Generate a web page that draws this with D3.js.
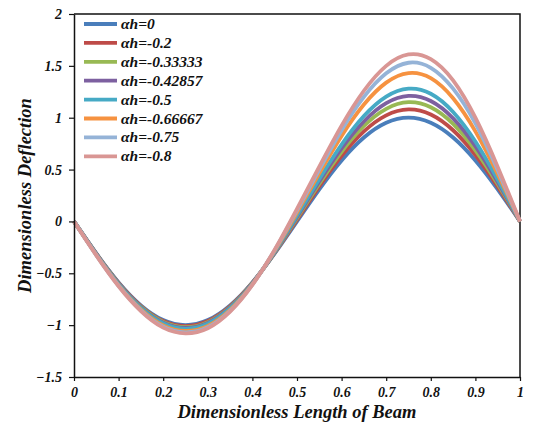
<!DOCTYPE html>
<html>
<head>
<meta charset="utf-8">
<script src="https://cdn.jsdelivr.net/npm/d3@7"></script>
<style>
  body { margin: 0; background: #fff; }
  text { font-family: "Liberation Serif", "Times New Roman", serif; font-weight: bold; font-style: italic; fill: #111; }
</style>
</head>
<body>
<div id="chart"></div>
<script>
// x positions along the beam
const xs = [0, 0.05, 0.1, 0.15, 0.2, 0.25, 0.3, 0.35, 0.4, 0.45, 0.5,
            0.55, 0.6, 0.65, 0.7, 0.75, 0.8, 0.85, 0.9, 0.95, 1];

// legend labels
const labels = ["\u03b1h=0", "\u03b1h=-0.2", "\u03b1h=-0.33333", "\u03b1h=-0.42857",
                "\u03b1h=-0.5", "\u03b1h=-0.66667", "\u03b1h=-0.75", "\u03b1h=-0.8"];

// deflection values
const ah0     = [0, -0.309, -0.588, -0.809, -0.951, -1.000, -0.951, -0.809, -0.588, -0.309, 0.000, 0.309, 0.588, 0.809, 0.951, 1.000, 0.951, 0.809, 0.588, 0.309, 0];
const ah02    = [0, -0.311, -0.593, -0.816, -0.961, -1.010, -0.961, -0.817, -0.591, -0.304, 0.016, 0.338, 0.632, 0.868, 1.023, 1.080, 1.031, 0.879, 0.640, 0.336, 0];
const ah0333  = [0, -0.314, -0.597, -0.823, -0.969, -1.020, -0.971, -0.824, -0.594, -0.300, 0.030, 0.363, 0.671, 0.920, 1.086, 1.150, 1.101, 0.941, 0.686, 0.360, 0];
const ah0428  = [0, -0.315, -0.601, -0.828, -0.976, -1.027, -0.978, -0.830, -0.596, -0.296, 0.042, 0.385, 0.704, 0.964, 1.140, 1.210, 1.161, 0.994, 0.725, 0.380, 0];
const ah05    = [0, -0.317, -0.605, -0.834, -0.985, -1.036, -0.987, -0.837, -0.599, -0.292, 0.056, 0.410, 0.742, 1.016, 1.203, 1.280, 1.231, 1.055, 0.770, 0.404, 0];
const ah0666  = [0, -0.322, -0.614, -0.848, -1.003, -1.056, -1.007, -0.852, -0.605, -0.283, 0.086, 0.464, 0.825, 1.127, 1.338, 1.430, 1.381, 1.187, 0.868, 0.455, 0];
const ah075   = [0, -0.325, -0.620, -0.857, -1.015, -1.069, -1.020, -0.862, -0.609, -0.277, 0.106, 0.500, 0.880, 1.201, 1.428, 1.530, 1.481, 1.280, 0.945, 0.495, 0];
const ah08    = [0, -0.327, -0.625, -0.864, -1.024, -1.079, -1.030, -0.870, -0.612, -0.272, 0.122, 0.529, 0.924, 1.260, 1.500, 1.610, 1.565, 1.360, 1.000, 0.525, 0];

const series = [ah0, ah02, ah0333, ah0428, ah05, ah0666, ah075, ah08];
const colors = ["#4A7EBB", "#BE4B48", "#98B954", "#7D60A0", "#46AAC5", "#F69240", "#95B3D7", "#D99694"];

const xTicks = [0, 0.1, 0.2, 0.3, 0.4, 0.5, 0.6, 0.7, 0.8, 0.9, 1];
const yTicks = [-1.5, -1, -0.5, 0, 0.5, 1, 1.5, 2];

const width = 538, height = 434;
const margin = {top: 14, right: 18, bottom: 57, left: 74};

const svg = d3.select('#chart').append('svg')
    .attr('width', width)
    .attr('height', height);

const x = d3.scaleLinear().domain([0, 1]).range([margin.left, width - margin.right]);
const y = d3.scaleLinear().domain([-1.5, 2]).range([height - margin.bottom, margin.top]);

// box: top and right border
svg.append('path')
    .attr('d', `M${x(0)},${y(2)}H${x(1)}V${y(-1.5)}`)
    .attr('fill', 'none')
    .attr('stroke', '#111')
    .attr('stroke-width', 1.5);

// curves
const line = d3.line()
    .x((d, i) => x(xs[i]))
    .y(d => y(d))
    .curve(d3.curveNatural);

svg.append('g').selectAll('path')
    .data(series)
    .enter().append('path')
    .attr('d', line)
    .attr('fill', 'none')
    .attr('stroke', (d, i) => colors[i])
    .attr('stroke-width', 3.8)
    .attr('stroke-linejoin', 'round');

// axes
const xAxis = svg.append('g')
    .attr('transform', `translate(0,${y(-1.5)})`)
    .call(d3.axisBottom(x).tickValues(xTicks).tickSize(4).tickSizeOuter(0).tickPadding(6).tickFormat(d3.format('')));
const yAxis = svg.append('g')
    .attr('transform', `translate(${x(0)},0)`)
    .call(d3.axisLeft(y).tickValues(yTicks).tickSize(5).tickSizeOuter(0).tickPadding(7).tickFormat(d3.format('')));

[xAxis, yAxis].forEach(g => {
  g.select('.domain').attr('stroke', '#111').attr('stroke-width', 1.5);
  g.selectAll('.tick line').attr('stroke', '#111').attr('stroke-width', 1.2);
  g.selectAll('text').attr('font-size', 14).attr('font-family', null).attr('fill', '#111');
});

// axis titles
svg.append('text')
    .attr('x', (x(0) + x(1)) / 2)
    .attr('y', 418)
    .attr('text-anchor', 'middle')
    .attr('font-size', 18.5)
    .text('Dimensionless Length of Beam');

svg.append('text')
    .attr('transform', `translate(31,${(y(2) + y(-1.5)) / 2}) rotate(-90)`)
    .attr('text-anchor', 'middle')
    .attr('font-size', 18.5)
    .text('Dimensionless Deflection');

// legend
const legend = svg.append('g');
labels.forEach((lab, i) => {
  const ly = 24 + i * 18.9;
  legend.append('line')
    .attr('x1', 84).attr('x2', 117)
    .attr('y1', ly).attr('y2', ly)
    .attr('stroke', colors[i])
    .attr('stroke-width', 3.8);
  legend.append('text')
    .attr('x', 121)
    .attr('y', ly + 5)
    .attr('font-size', 15.5)
    .text(lab);
});
</script>
</body>
</html>
